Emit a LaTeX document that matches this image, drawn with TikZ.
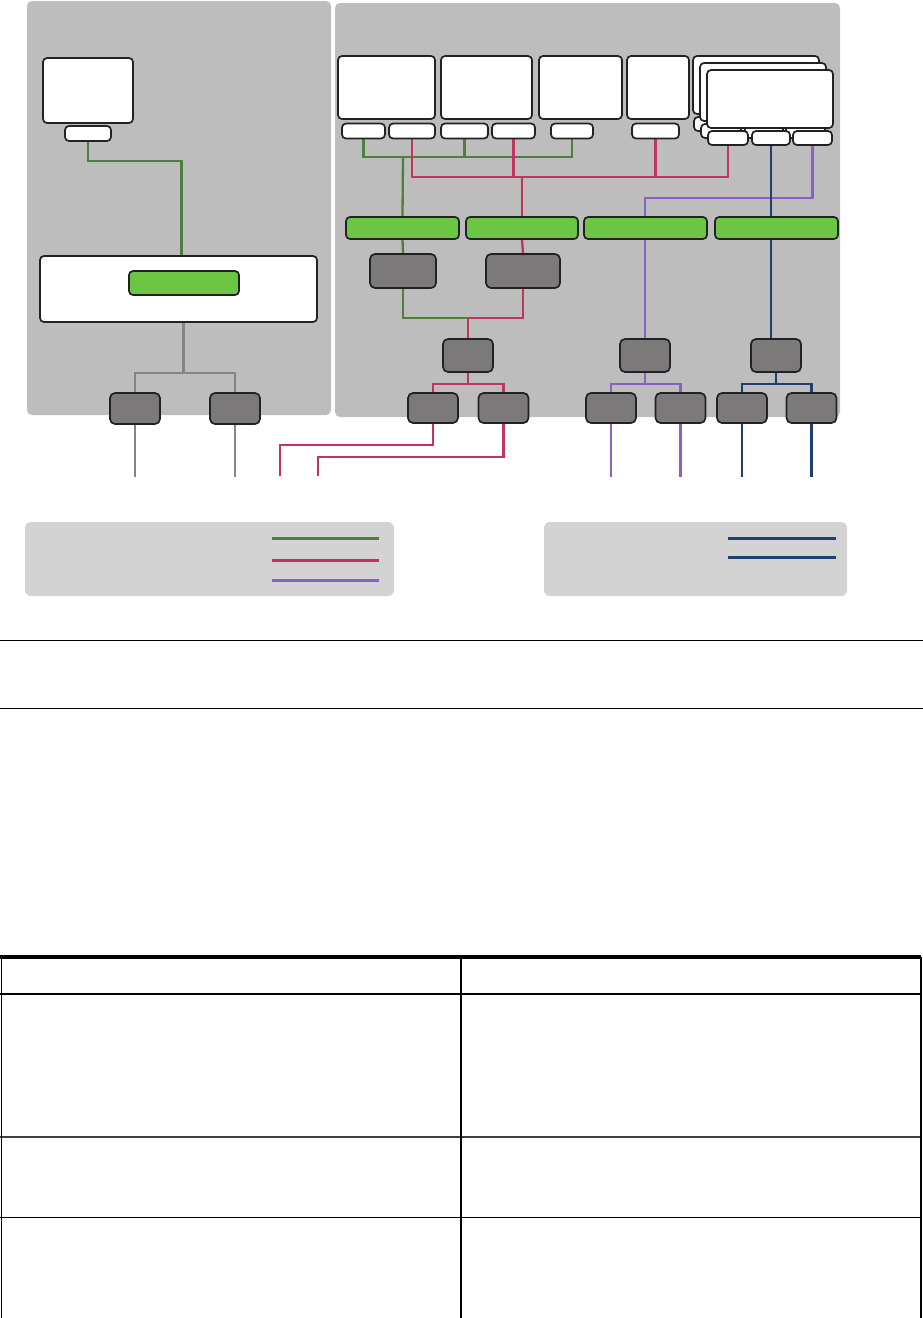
\documentclass[tikz,border=0pt]{standalone}
\usepackage{tikz}
\usetikzlibrary{positioning,backgrounds,calc}
\definecolor{panelgray}{HTML}{BDBDBD}
\definecolor{legendgray}{HTML}{D3D3D3}
\definecolor{busgreen}{HTML}{6CC644}
\definecolor{unitgray}{HTML}{7B7979}
\definecolor{wiregreen}{HTML}{4F7F3F}
\definecolor{wirered}{HTML}{C0345E}
\definecolor{wirepurple}{HTML}{8A60C8}
\definecolor{wirenavy}{HTML}{1E3F70}
\definecolor{wiregray}{HTML}{858585}
\definecolor{edgeblack}{HTML}{222222}

\begin{document}
\begin{tikzpicture}[x=1pt, y=-1pt,
    panel/.style={fill=panelgray, rounded corners=5pt, inner sep=0pt},
    legendbox/.style={fill=legendgray, rounded corners=6pt, inner sep=0pt},
    screen/.style={draw=edgeblack, fill=white, line width=1.7pt, rounded corners=4pt, inner sep=0pt},
    port/.style={draw=edgeblack, fill=white, line width=1.7pt, rounded corners=4pt, inner sep=0pt, minimum height=15},
    bus/.style={draw=edgeblack, fill=busgreen, line width=1.7pt, rounded corners=4pt, inner sep=0pt, minimum height=22},
    unit/.style={draw=edgeblack, fill=unitgray, line width=1.7pt, rounded corners=5pt, inner sep=0pt},
    gwire/.style={draw=wiregreen, line width=2.3pt},
    rwire/.style={draw=wirered, line width=2.3pt},
    pwire/.style={draw=wirepurple, line width=2.3pt},
    nwire/.style={draw=wirenavy, line width=2.3pt},
    kwire/.style={draw=wiregray, line width=2.3pt}
]
\useasboundingbox (0,0) rectangle (923,1318);

% --- panels ---
\begin{scope}[on background layer]
\node[panel, minimum width=304, minimum height=414] (lpanel) at (179,208) {};
\node[panel, minimum width=505, minimum height=414] (rpanel) at (587.5,210) {};
\end{scope}

% --- left side ---
\node[screen, minimum width=90, minimum height=65] (lscr) at (88,90.5) {};
\node[port, minimum width=46] (lport) at (88,133.5) {};
\node[screen, minimum width=277, minimum height=66] (srv) at (178.5,289) {};
\node[bus, minimum width=110, minimum height=24] (srvbus) at (184,283) {};
\node[unit, minimum width=50, minimum height=31] (l1) at (135,408.5) {};
\node[unit, minimum width=50, minimum height=31] (l2) at (235,408.5) {};

% --- screens ---
\node[screen, minimum width=97, minimum height=63] (m1) at (386.5,87.5) {};
\node[screen, minimum width=91, minimum height=63] (m2) at (486.5,87.5) {};
\node[screen, minimum width=83, minimum height=63] (m3) at (580.5,87.5) {};
\node[screen, minimum width=62, minimum height=63] (m4) at (658,87.5) {};
\node[port, minimum width=43] (m1p1) at (363.5,131) {};
\node[port, minimum width=46] (m1p2) at (412,131) {};
\node[port, minimum width=47] (m2p1) at (464.5,131) {};
\node[port, minimum width=43] (m2p2) at (513.5,131) {};
\node[port, minimum width=42] (m3p) at (572,131) {};
\node[port, minimum width=47] (m4p) at (655.5,131) {};

% stacked cards
\foreach \i/\d in {1/-14, 2/-7, 3/0} {
  \node[screen, minimum width=126, minimum height=58] (card\i) at (770+\d,99+\d) {};
  \node[port, minimum width=40, minimum height=14] (card\i p1) at (728+\d,138+\d) {};
  \node[port, minimum width=38, minimum height=14] (card\i p2) at (771+\d,138+\d) {};
  \node[port, minimum width=39, minimum height=14] (card\i p3) at (812.5+\d,138+\d) {};
}

% --- buses ---
\node[bus, minimum width=113] (b1) at (402.5,228) {};
\node[bus, minimum width=112] (b2) at (522,228) {};
\node[bus, minimum width=123] (b3) at (645.5,228) {};
\node[bus, minimum width=123] (b4) at (776.5,228) {};

% --- units ---
\node[unit, minimum width=66, minimum height=34] (d1) at (403,271) {};
\node[unit, minimum width=74, minimum height=34] (d2) at (523,271) {};
\node[unit, minimum width=50, minimum height=33] (c1) at (468,355.5) {};
\node[unit, minimum width=50, minimum height=33] (c2) at (645,355.5) {};
\node[unit, minimum width=50, minimum height=33] (c3) at (776,355.5) {};
\node[unit, minimum width=50, minimum height=30] (e1) at (433,408) {};
\node[unit, minimum width=50, minimum height=30] (e2) at (503.5,408) {};
\node[unit, minimum width=50, minimum height=30] (e3) at (611,408) {};
\node[unit, minimum width=50, minimum height=30] (e4) at (680.5,408) {};
\node[unit, minimum width=50, minimum height=30] (e5) at (742,408) {};
\node[unit, minimum width=50, minimum height=30] (e6) at (811.5,408) {};

% --- legends ---
\node[legendbox, minimum width=369, minimum height=74] (leg1) at (209.5,559) {};
\node[legendbox, minimum width=303, minimum height=74] (leg2) at (695.5,559) {};

% --- wires ---
\begin{scope}[on background layer]
\coordinate (gbus) at (403,157);
\coordinate (rbus) at (522,177);
\coordinate (cj) at (468,318);
\coordinate (r1end) at (280,476);
\coordinate (r2end) at (318,476);

\draw[gwire] (lport.south) -- ++(0,19) -| ([xshift=3pt]srv.north);
\draw[kwire] ([xshift=5pt]srv.south) -- ++(0,50) coordinate (kj) -| (l1.north);
\draw[kwire] (kj) -| (l2.north);
\draw[kwire] (l1.south) -- ++(0,52);
\draw[kwire] (l2.south) -- ++(0,52);

\draw[gwire] (m1p1.south) |- (gbus) -| (m3p.south);
\draw[gwire] (m2p1.south) -- (m2p1.south |- gbus);
\draw[gwire] (gbus) -- (b1.north);

\draw[rwire] (m1p2.south) |- (rbus) -| (card3p1.south);
\draw[rwire] (m2p2.south) -- (m2p2.south |- rbus);
\draw[rwire] (m4p.south) -- (m4p.south |- rbus);
\draw[rwire] (rbus) -- (b2.north);

\draw[pwire] (card3p3.south) -- ++(0,52) -| (c2.north);
\draw[nwire] (card3p2.south) -- (card3p2.south |- c3.north);

\draw[gwire] (b1.south) -- (d1.north);
\draw[rwire] (b2.south) -- (d2.north);
\draw[gwire] (d1.south) |- (cj);
\draw[rwire] (d2.south) |- (cj) -- (c1.north);

\draw[rwire] (c1.south) -- ++(0,11) coordinate (c1j) -| (e1.north);
\draw[rwire] (c1j) -| (e2.north);
\draw[pwire] (c2.south) -- ++(0,11) coordinate (c2j) -| (e3.north);
\draw[pwire] (c2j) -| (e4.north);
\draw[nwire] (c3.south) -- ++(0,11) coordinate (c3j) -| (e5.north);
\draw[nwire] (c3j) -| (e6.north);

\draw[rwire] (e1.south) -- ++(0,21) -| (r1end);
\draw[rwire] (e2.south) -- ++(0,33) -| (r2end);
\draw[pwire] (e3.south) -- ++(0,53);
\draw[pwire] (e4.south) -- ++(0,53);
\draw[nwire] (e5.south) -- ++(0,53);
\draw[nwire] (e6.south) -- ++(0,53);
\end{scope}

% legend keys
\draw[gwire, line width=3pt] (272,538) -- (379,538);
\draw[rwire, line width=3pt] (272,560) -- (379,560);
\draw[pwire, line width=3pt] (272,580) -- (379,580);
\draw[nwire, line width=3pt] (728,538) -- (836,538);
\draw[nwire, line width=3pt] (728,557) -- (836,557);

% --- rules and table ---
\draw[line width=1pt] (0,640) -- (923,640);
\draw[line width=1pt] (0,708) -- (923,708);
\draw[line width=4pt] (0,957) -- (921,957);
\draw[line width=2.5pt] (0,994) -- (921,994);
\draw[line width=1.3pt, black!75] (0,1137) -- (921,1137);
\draw[line width=1pt] (0,1217) -- (921,1217);
\foreach \x in {1.5,461,921}
  \draw[line width=1.2pt] (\x,957) -- (\x,1318);
\end{tikzpicture}
\end{document}
